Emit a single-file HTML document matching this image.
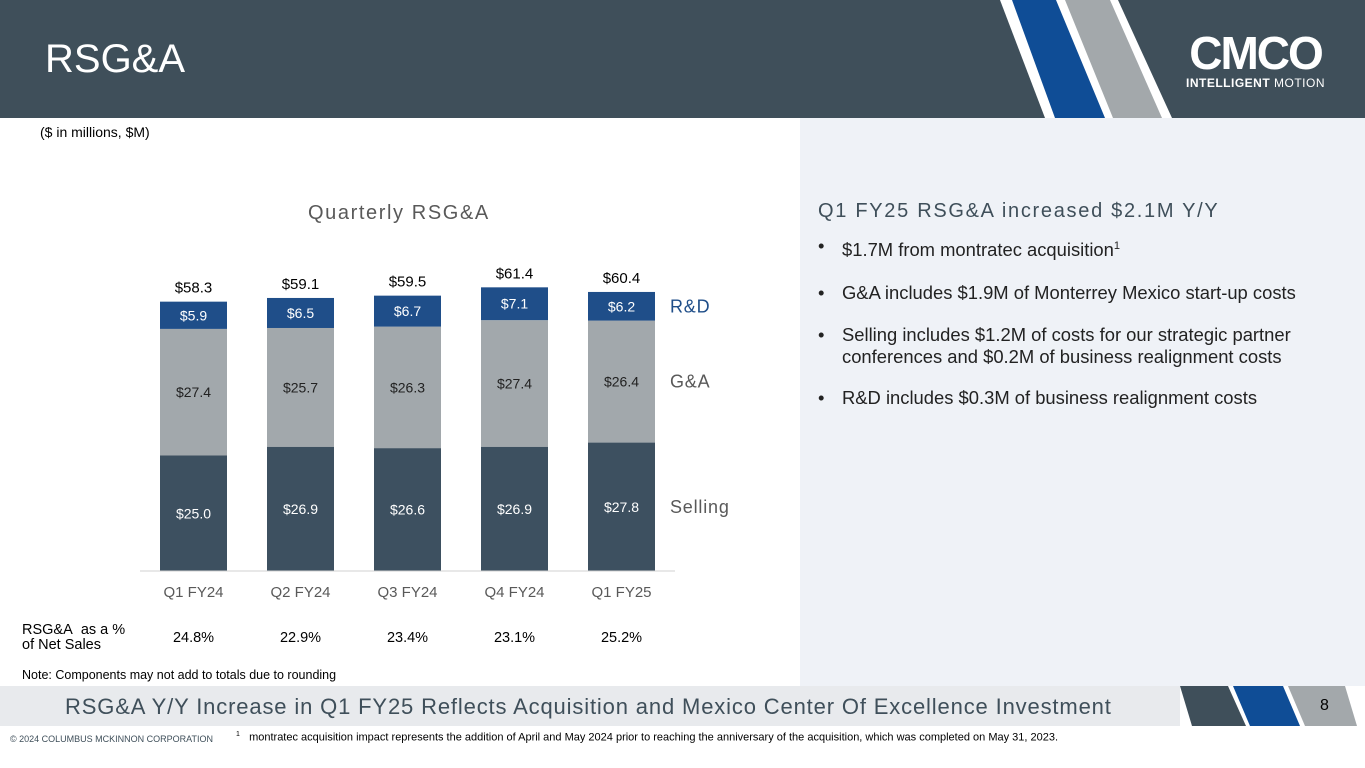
<!DOCTYPE html>
<html><head><meta charset="utf-8"><style>
body{margin:0;width:1365px;height:768px;position:relative;overflow:hidden;background:#fff;font-family:"Liberation Sans",sans-serif;}
.a{position:absolute;white-space:nowrap;}
</style></head><body>
<svg class="a" style="left:0;top:0" width="1365" height="768">
<rect x="0" y="0" width="1365" height="118" fill="#3f4f5a"/>
<polygon points="1000,0 1118,0 1172,118 1045,118" fill="#fff"/>
<polygon points="1012,0 1056,0 1105,118 1055,118" fill="#0f4d96"/>
<polygon points="1065,0 1110,0 1162,118 1113,118" fill="#a3a8ab"/>
<rect x="800" y="118" width="565" height="568" fill="#eff2f7"/>
<rect x="0" y="686" width="1180" height="40" fill="#e8eaed"/>
<polygon points="1180,686 1228,686 1246,726 1192,726" fill="#3f4f5a"/>
<polygon points="1233,686 1283,686 1300,726 1250,726" fill="#0f4d96"/>
<polygon points="1288,686 1345,686 1357,726 1305,726" fill="#a3a8ab"/>
</svg>
<div class="a" style="left:45px;top:37px;font-size:40px;color:#fff;">RSG&amp;A</div>
<div class="a" style="left:1186px;top:30px;color:#fff;text-align:center;">
<div style="font-size:46px;font-weight:bold;letter-spacing:-2px;line-height:46px;">CMCO</div>
<div style="font-size:12px;letter-spacing:0.5px;"><b>INTELLIGENT</b> MOTION</div></div>
<div class="a" style="left:40px;top:124px;font-size:14px;color:#000;">($ in millions, $M)</div>
<div class="a" style="left:308px;top:202px;font-size:20px;color:#595959;letter-spacing:1.6px;">Quarterly RSG&amp;A</div>
<svg id="chart" class="a" style="left:0;top:0" width="800" height="680"></svg>
<div class="a" style="left:22px;top:623px;font-size:14.5px;line-height:15px;color:#000;">RSG&amp;A&nbsp; as a %<br>of Net Sales</div>
<div class="a" style="left:22px;top:668px;font-size:12.5px;color:#000;">Note: Components may not add to totals due to rounding</div>
<div class="a" style="left:818px;top:200px;font-size:20px;color:#3f4f5a;letter-spacing:1.7px;">Q1 FY25 RSG&amp;A increased $2.1M Y/Y</div>
<div class="a" style="left:818px;top:235px;font-size:18.4px;color:#222;line-height:22px;">
<div style="position:relative;padding-left:24px;margin-bottom:21px;"><span style="position:absolute;left:0">•</span>$1.7M from montratec acquisition<sup style="font-size:11px">1</sup></div>
<div style="position:relative;padding-left:24px;margin-bottom:20px;"><span style="position:absolute;left:0">•</span>G&amp;A includes $1.9M of Monterrey Mexico start-up costs</div>
<div style="position:relative;padding-left:24px;margin-bottom:19px;"><span style="position:absolute;left:0">•</span>Selling includes $1.2M of costs for our strategic partner<br>conferences and $0.2M of business realignment costs</div>
<div style="position:relative;padding-left:24px;"><span style="position:absolute;left:0">•</span>R&amp;D includes $0.3M of business realignment costs</div></div>
<div class="a" style="left:65px;top:694px;font-size:22px;color:#3f4f5a;letter-spacing:0.85px;">RSG&amp;A Y/Y Increase in Q1 FY25 Reflects Acquisition and Mexico Center Of Excellence Investment</div>
<div class="a" style="left:1320px;top:697px;font-size:16px;color:#000;">8</div>
<div class="a" style="left:10px;top:734px;font-size:9px;color:#3f4f5a;">© 2024 COLUMBUS MCKINNON CORPORATION</div>
<div class="a" style="left:236px;top:731px;font-size:11px;color:#000;"><sup style="font-size:7px">1</sup>&nbsp;&nbsp; montratec acquisition impact represents the addition of April and May 2024 prior to reaching the anniversary of the acquisition, which was completed on May 31, 2023.</div>
<script>
const categories=["Q1 FY24","Q2 FY24","Q3 FY24","Q4 FY24","Q1 FY25"];
const selling=[25.0,26.9,26.6,26.9,27.8];
const ga=[27.4,25.7,26.3,27.4,26.4];
const rd=[5.9,6.5,6.7,7.1,6.2];
const totals=[58.3,59.1,59.5,61.4,60.4];
const pctNetSales=["24.8%","22.9%","23.4%","23.1%","25.2%"];
const seriesNames=["Selling","G&A","R&D"];
const svg=document.getElementById('chart');
const NS='http://www.w3.org/2000/svg';
const base=571,scale=4.62,x0=193.5,step=107,bw=67;
const xc=i=>x0+i*step;
const y=v=>base-v*scale;
function mk(t,a){const e=document.createElementNS(NS,t);for(const k in a)e.setAttribute(k,a[k]);svg.appendChild(e);return e;}
function txt(s,x,yy,size,fill,name){const e=mk('text',{x:x,y:yy,'font-size':size,fill:fill,'text-anchor':'middle','font-family':'Liberation Sans, sans-serif'});e.textContent=s;


return e;}
const series=[selling,ga,rd];const colors=["#3d5060","#a2a8ac","#1f4e89"];const lblCol=["#fff","#222","#fff"];
categories.forEach((c,i)=>{
 let cum=0;
 series.forEach((s,k)=>{
  const r=mk('rect',{x:xc(i)-bw/2,y:y(cum+s[i]),width:bw,height:s[i]*scale,fill:colors[k]});
  
  
  txt('$'+s[i].toFixed(1),xc(i),y(cum+s[i]/2)+5,14,lblCol[k],'bar-value-label');
  cum+=s[i];
 });
 txt('$'+totals[i].toFixed(1),xc(i),y(cum)-9,15,'#000','total-label');
 txt(c,xc(i),597,15,'#595959','x-axis-label');
 txt(pctNetSales[i],xc(i),642,14.5,'#000','pct-net-sales-value');
});
const ax=mk('line',{x1:140,x2:675,y1:base,y2:base,stroke:'#d0d0d0','stroke-width':1});


const last=categories.length-1;let cum=0;
series.forEach((s,k)=>{cum+=s[last];const lb=txt(seriesNames[k],670,y(cum-s[last]/2)+6,18,'#595959','legend-entry');lb.setAttribute('text-anchor','start');lb.setAttribute('letter-spacing','0.8');if(k===2)lb.setAttribute('fill','#1f4e89');});
</script>
</body></html>
